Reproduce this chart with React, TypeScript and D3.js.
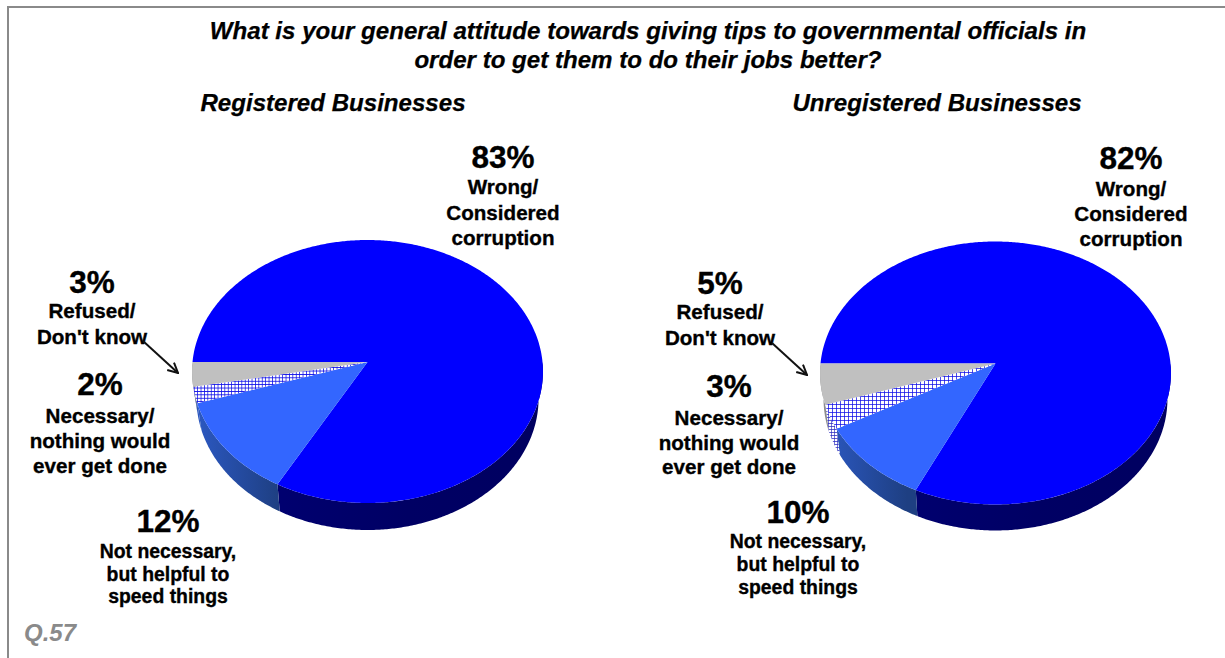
import React from "react";
import * as d3 from "d3";

// Survey shares, in the order the slices run clockwise from the left edge of each pie.
const answers = [
  "Wrong/ Considered corruption",
  "Not necessary, but helpful to speed things",
  "Necessary/ nothing would ever get done",
  "Refused/ Don't know",
];
const registeredShares = [83, 12, 2, 3];
const unregisteredShares = [82, 10, 3, 5];

const titleLines = [
  "What is your general attitude towards giving tips to governmental officials in",
  "order to get them to do their jobs better?",
];
const panelTitles = ["Registered Businesses", "Unregistered Businesses"];
const answerLines = [
  ["Wrong/", "Considered", "corruption"],
  ["Not necessary,", "but helpful to", "speed things"],
  ["Necessary/", "nothing would", "ever get done"],
  ["Refused/", "Don't know"],
];
const footnote = "Q.57";

// Label anchors per answer: x centre, baseline of the percentage, baselines of the text lines.
const registeredLabelLayout = [
  { x: 503, pct: 168, lines: [194, 220, 245], size: 20.6 },
  { x: 168, pct: 532, lines: [558, 581, 603], size: 19.4 },
  { x: 100, pct: 395, lines: [423, 448, 473], size: 20.6 },
  { x: 92, pct: 293, lines: [318, 344], size: 20.6 },
];
const unregisteredLabelLayout = [
  { x: 1131, pct: 169, lines: [196, 221, 246], size: 20.6 },
  { x: 798, pct: 523, lines: [548, 571, 594], size: 19.4 },
  { x: 729, pct: 397, lines: [425, 450, 474], size: 20.6 },
  { x: 720, pct: 294, lines: [319, 345], size: 20.6 },
];

const FONT = "'Liberation Sans', Arial, sans-serif";
const TILT = 0.0722; // perspective of the disc: near edge looks larger than far edge
const RX = 175;
const RY = 130.8;

type Pt = [number, number];

// Perspective projection of a unit disc so that its centre lands on the given apex.
function project(cx: number, cy: number, u: number, v: number): Pt {
  const w = 1 - TILT * v;
  return [cx + (RX * u) / w, cy + (RY * v) / w];
}

// Angle 0 is the left edge; angles grow clockwise over the top of the disc.
function rim(cx: number, cy: number, a: number): Pt {
  return project(cx, cy, -Math.cos(a), -Math.sin(a));
}

const pathFrom = d3.line<Pt>().curve(d3.curveLinear);

function samples(a0: number, a1: number): number[] {
  const n = Math.max(2, Math.ceil(Math.abs(a1 - a0) / 0.01));
  return d3.range(n + 1).map((i) => a0 + ((a1 - a0) * i) / n);
}

type PieProps = {
  id: string;
  shares: number[];
  cx: number;
  cy: number;
  depth: number;
  narrow: number;
  cell: number;
  solidHatchWall: boolean;
};

function Pie({ id, shares, cx, cy, depth, narrow, cell, solidHatchWall }: PieProps) {
  const arcs = d3
    .pie<number>()
    .sort(null)
    .startAngle(0)
    .endAngle(2 * Math.PI)(shares);

  // The lower rim sits below the upper one and is slightly narrower.
  const lower = (p: Pt): Pt => [cx + (p[0] - cx) * narrow, p[1] + depth];
  const tops = [`#0000ff`, `#3366ff`, `url(#${id}-hatch)`, `#c0c0c0`];
  const sides = [
    `url(#${id}-deep)`,
    `url(#${id}-mid)`,
    solidHatchWall ? `url(#${id}-mid)` : `url(#${id}-hatchside)`,
    `#8c8c8c`,
  ];
  const xLeft = cx - RX;
  const xRight = cx + RX;

  return (
    <g>
      <defs>
        <pattern id={`${id}-hatch`} width={cell} height={cell} patternUnits="userSpaceOnUse">
          <rect width={cell} height={cell} fill="#ffffff" />
          <path d={`M0 0H${cell}M0 0V${cell}`} stroke="#1010e8" strokeWidth={1.5} />
        </pattern>
        <pattern id={`${id}-hatchside`} width={3} height={3} patternUnits="userSpaceOnUse">
          <rect width={3} height={3} fill="#ffffff" />
          <path d="M0 0H3M0 0V3" stroke="#2a2ac0" strokeWidth={1.3} />
        </pattern>
        <linearGradient id={`${id}-deep`} gradientUnits="userSpaceOnUse" x1={cx - 95} x2={xRight} y1={0} y2={0}>
          <stop offset="0" stopColor="#000070" />
          <stop offset="0.5" stopColor="#000064" />
          <stop offset="1" stopColor="#000060" />
        </linearGradient>
        <linearGradient id={`${id}-mid`} gradientUnits="userSpaceOnUse" x1={xLeft} x2={cx - 88} y1={0} y2={0}>
          <stop offset="0" stopColor="#2c59c4" />
          <stop offset="1" stopColor="#1e3f82" />
        </linearGradient>
      </defs>

      {/* Wall of the disc, only where the rim faces the viewer */}
      {arcs.map((d, i) => {
        const a0 = Math.max(d.startAngle, Math.PI);
        const a1 = Math.min(d.endAngle, 2 * Math.PI);
        if (a1 <= a0) return null;
        const top = samples(a0, a1).map((a) => rim(cx, cy, a));
        const bottom = top.map(lower).reverse();
        return <path key={i} d={`${pathFrom([...top, ...bottom])}Z`} fill={sides[i]} />;
      })}

      {/* Top face of the disc */}
      {arcs.map((d, i) => {
        const edge = samples(d.startAngle, d.endAngle).map((a) => rim(cx, cy, a));
        return <path key={i} d={`${pathFrom([[cx, cy], ...edge])}Z`} fill={tops[i]} />;
      })}
    </g>
  );
}

function Labels({ shares, layout }: { shares: number[]; layout: { x: number; pct: number; lines: number[]; size: number }[] }) {
  return (
    <g textAnchor="middle" fontFamily={FONT} fontWeight={700} fill="#000" stroke="#000" strokeWidth={0.35}>
      {layout.map((l, i) => (
        <g key={answers[i]}>
          <text x={l.x} y={l.pct} fontSize={31.5}>
            {shares[i]}%
          </text>
          {answerLines[i].map((t, j) => (
            <text key={t} x={l.x} y={l.lines[j]} fontSize={l.size}>
              {t}
            </text>
          ))}
        </g>
      ))}
    </g>
  );
}

function Pointer({ from, to }: { from: Pt; to: Pt }) {
  return (
    <path
      d={`${pathFrom([from, to])}`}
      stroke="#111"
      strokeWidth={2}
      fill="none"
      markerEnd="url(#open-head)"
    />
  );
}

export default function App() {
  return (
    <svg
      width={1225}
      height={658}
      style={{ position: "absolute", left: 0, top: 0, background: "#fff" }}
      viewBox="0 0 1225 658"
    >
      <defs>
        <marker id="open-head" viewBox="0 0 12 12" refX={11} refY={6} markerWidth={12} markerHeight={12} markerUnits="userSpaceOnUse" orient="auto">
          <path d="M1 1L11 6L1 11" fill="none" stroke="#111" strokeWidth={2} />
        </marker>
      </defs>

      <path d="M8 658V7H1225" fill="none" stroke="#8a8a8a" strokeWidth={2} />

      <g fontFamily={FONT} fontWeight={700} fontStyle="italic" textAnchor="middle" fill="#000" stroke="#000" strokeWidth={0.25}>
        <text x={648} y={39} fontSize={24.1}>{titleLines[0]}</text>
        <text x={648} y={68} fontSize={24.1}>{titleLines[1]}</text>
        <text x={333} y={111} fontSize={24.1}>{panelTitles[0]}</text>
        <text x={937} y={111} fontSize={24.1}>{panelTitles[1]}</text>
      </g>

      <Pie id="reg" shares={registeredShares} cx={367.5} cy={362} depth={27} narrow={0.975} cell={3.4} solidHatchWall={true} />
      <Pie id="unreg" shares={unregisteredShares} cx={995.5} cy={363.5} depth={26} narrow={0.98} cell={4} solidHatchWall={false} />

      <Labels shares={registeredShares} layout={registeredLabelLayout} />
      <Labels shares={unregisteredShares} layout={unregisteredLabelLayout} />

      <Pointer from={[143, 341]} to={[178, 373]} />
      <Pointer from={[772, 343]} to={[807, 375]} />

      <text x={24} y={641} fontFamily={FONT} fontWeight={700} fontStyle="italic" fontSize={24} fill="#8a8a8a">
        {footnote}
      </text>
    </svg>
  );
}
